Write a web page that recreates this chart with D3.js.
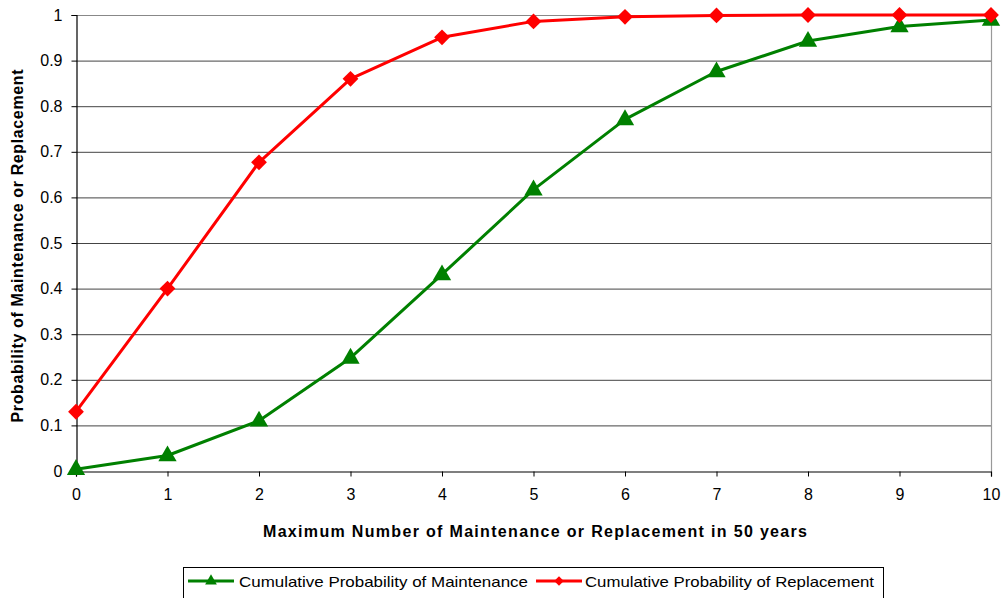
<!DOCTYPE html>
<html>
<head>
<meta charset="utf-8">
<script src="https://cdn.jsdelivr.net/npm/d3@7"></script>
<style>
  body { margin: 0; background: #fff; }
  svg { font-family: "Liberation Sans", Arial, sans-serif; }
</style>
</head>
<body>
<svg id="chart" width="1005" height="598"></svg>
<script>
// values
const xValues = [0, 1, 2, 3, 4, 5, 6, 7, 8, 9, 10];
const maintenance = [0.004, 0.034, 0.11, 0.248, 0.431, 0.617, 0.771, 0.876, 0.943, 0.975, 0.989];
const replacement = [0.13, 0.40, 0.677, 0.86, 0.951, 0.986, 0.996, 0.999, 1.0, 1.0, 1.0];
const yTicks = [0, 0.1, 0.2, 0.3, 0.4, 0.5, 0.6, 0.7, 0.8, 0.9, 1];
const seriesNames = ['Cumulative Probability of Maintenance', 'Cumulative Probability of Replacement'];

(function(){
  const svg = d3.select('#chart');
  const pl = 76, pr = 991, pt = 15, pb = 471;
  const x = d3.scaleLinear().domain([0, 10]).range([pl, pr]);
  const y = d3.scaleLinear().domain([0, 1]).range([pb, pt]);
  const FONT = '"Liberation Sans", Arial, sans-serif';

  // gridlines
  svg.append('g').selectAll('line').data(yTicks.filter(d => d > 0)).enter().append('line')
    .attr('x1', pl).attr('x2', pr)
    .attr('y1', d => y(d) + 0.5).attr('y2', d => y(d) + 0.5)
    .attr('stroke', d => d === 1 ? '#888' : '#444').attr('stroke-width', 1);
  // right border
  svg.append('line').attr('x1', pr + 0.5).attr('x2', pr + 0.5).attr('y1', pt).attr('y2', pb)
    .attr('stroke', '#999').attr('stroke-width', 1.2);

  // axes
  const xAxis = d3.axisBottom(x).tickValues(xValues).tickSize(5).tickPadding(12).tickFormat(d3.format('d'));
  const gx = svg.append('g').attr('transform', `translate(0,${pb + 0.5})`).call(xAxis);
  gx.select('.domain').attr('stroke', '#000').attr('stroke-width', 1.2);
  gx.selectAll('.tick line').attr('stroke', '#000');
  gx.selectAll('text').style('font-size', '16px').attr('fill', '#000').style('font-family', FONT);

  const yAxis = d3.axisLeft(y).tickValues(yTicks).tickSize(5).tickPadding(9).tickFormat(d => d === 0 || d === 1 ? d : d3.format('.1f')(d));
  const gy = svg.append('g').attr('transform', `translate(${pl + 0.5},0)`).call(yAxis);
  gy.select('.domain').attr('stroke', '#000').attr('stroke-width', 1.2);
  gy.selectAll('.tick line').attr('stroke', '#000');
  gy.selectAll('text').style('font-size', '16px').attr('fill', '#000').style('font-family', FONT);

  // titles
  svg.append('text').attr('x', 535).attr('y', 537).attr('text-anchor', 'middle')
    .style('font-size', '16px').attr('font-weight', 'bold').attr('fill', '#000')
    .attr('textLength', 544).attr('lengthAdjust', 'spacing')
    .text('Maximum Number of Maintenance or Replacement in 50 years');
  svg.append('text').attr('transform', 'translate(23,246) rotate(-90)').attr('text-anchor', 'middle')
    .style('font-size', '16px').attr('font-weight', 'bold').attr('fill', '#000')
    .attr('textLength', 353).attr('lengthAdjust', 'spacing')
    .text('Probability of Maintenance or Replacement');

  // series
  const line = d3.line().x((d, i) => x(xValues[i])).y(d => y(d));
  const tri = d3.symbol().type(d3.symbolTriangle).size(145);
  const dia = d3.symbol().type(d3.symbolSquare).size(125);

  function drawSeries(vals, color, shape, rotate, dy) {
    svg.append('path').datum(vals).attr('d', line).attr('fill', 'none')
      .attr('stroke', color).attr('stroke-width', 3).attr('stroke-linejoin', 'round');
    svg.append('g').selectAll('path').data(vals).enter().append('path')
      .attr('d', shape)
      .attr('transform', (d, i) => `translate(${x(xValues[i])},${y(d) + dy}) rotate(${rotate})`)
      .attr('fill', color);
  }
  drawSeries(maintenance, '#008000', tri, 0, 0.5);
  drawSeries(replacement, '#ff0000', dia, 45, 0);

  // legend
  const lg = svg.append('g');
  lg.append('rect').attr('x', 183.5).attr('y', 567.5).attr('width', 700).attr('height', 34)
    .attr('fill', '#fff').attr('stroke', '#000').attr('stroke-width', 1);
  const items = [
    { name: seriesNames[0], color: '#008000', shape: d3.symbol().type(d3.symbolTriangle).size(60), rot: 0, x: 188, tx: 239 },
    { name: seriesNames[1], color: '#ff0000', shape: d3.symbol().type(d3.symbolSquare).size(45), rot: 45, x: 536, tx: 585 }
  ];
  items.forEach(it => {
    lg.append('line').attr('x1', it.x).attr('x2', it.x + 46).attr('y1', 581).attr('y2', 581)
      .attr('stroke', it.color).attr('stroke-width', 3);
    lg.append('path').attr('d', it.shape).attr('transform', `translate(${it.x + 23},581) rotate(${it.rot})`).attr('fill', it.color);
    lg.append('text').attr('x', it.tx).attr('y', 587).style('font-size', '15px').attr('fill', '#000')
      .attr('textLength', 289).attr('lengthAdjust', 'spacingAndGlyphs').text(it.name);
  });
})();
</script>
</body>
</html>
